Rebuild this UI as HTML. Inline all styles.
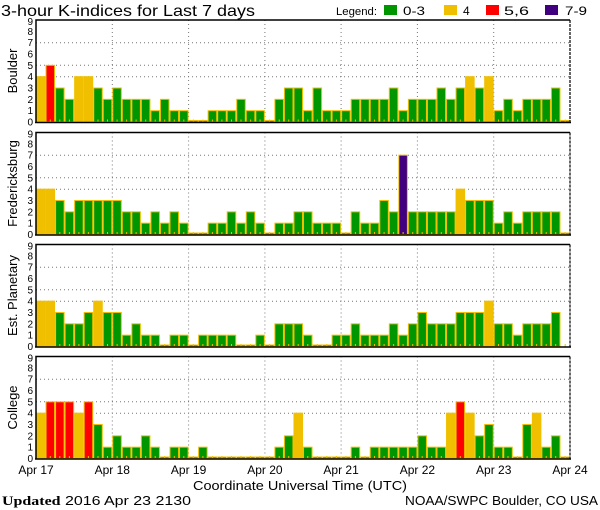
<!DOCTYPE html>
<html><head><meta charset="utf-8"><style>
html,body{margin:0;padding:0;background:#fff;}
svg{display:block;font-family:"Liberation Sans",sans-serif;}
</style></head><body>
<svg id="s" width="600" height="510" viewBox="0 0 600 510" xmlns="http://www.w3.org/2000/svg">
<rect width="600" height="510" fill="#fff"/>
<text x="1" y="16" font-size="16" textLength="254" lengthAdjust="spacingAndGlyphs">3-hour K-indices for Last 7 days</text>
<text x="336" y="15" font-size="11" textLength="41" lengthAdjust="spacingAndGlyphs">Legend:</text>
<rect x="384" y="5" width="13" height="10" fill="#009600"/>
<text x="403" y="15" font-size="12" textLength="22" lengthAdjust="spacingAndGlyphs">0-3</text>
<rect x="444" y="5" width="13" height="10" fill="#f0c000"/>
<text x="463" y="15" font-size="12">4</text>
<rect x="486" y="5" width="13" height="10" fill="#ff0000"/>
<text x="504" y="15" font-size="12" textLength="25" lengthAdjust="spacingAndGlyphs">5,6</text>
<rect x="545" y="5" width="13" height="10" fill="#400080"/>
<text x="565" y="15" font-size="12" textLength="22" lengthAdjust="spacingAndGlyphs">7-9</text>

<g id="bars"></g>

<g font-size="10" text-anchor="end">
<g transform="translate(0,20)">
<text x="33" y="105.5">0</text><text x="33" y="94.2">1</text><text x="33" y="82.8">2</text><text x="33" y="71.5">3</text><text x="33" y="60.2">4</text><text x="33" y="48.8">5</text><text x="33" y="37.5">6</text><text x="33" y="26.2">7</text><text x="33" y="14.8">8</text><text x="33" y="5">9</text>
</g>
<g transform="translate(0,132.5)">
<text x="33" y="105.5">0</text><text x="33" y="94.2">1</text><text x="33" y="82.8">2</text><text x="33" y="71.5">3</text><text x="33" y="60.2">4</text><text x="33" y="48.8">5</text><text x="33" y="37.5">6</text><text x="33" y="26.2">7</text><text x="33" y="14.8">8</text><text x="33" y="5">9</text>
</g>
<g transform="translate(0,244.5)">
<text x="33" y="105.5">0</text><text x="33" y="94.2">1</text><text x="33" y="82.8">2</text><text x="33" y="71.5">3</text><text x="33" y="60.2">4</text><text x="33" y="48.8">5</text><text x="33" y="37.5">6</text><text x="33" y="26.2">7</text><text x="33" y="14.8">8</text><text x="33" y="5">9</text>
</g>
<g transform="translate(0,356.5)">
<text x="33" y="105.5">0</text><text x="33" y="94.2">1</text><text x="33" y="82.8">2</text><text x="33" y="71.5">3</text><text x="33" y="60.2">4</text><text x="33" y="48.8">5</text><text x="33" y="37.5">6</text><text x="33" y="26.2">7</text><text x="33" y="14.8">8</text><text x="33" y="5">9</text>
</g>
</g>

<g font-size="13" text-anchor="middle">
<text transform="translate(17,71) rotate(-90)">Boulder</text>
<text transform="translate(17,183.5) rotate(-90)">Fredericksburg</text>
<text transform="translate(17,295.5) rotate(-90)">Est. Planetary</text>
<text transform="translate(17,407.5) rotate(-90)">College</text>
</g>

<g font-size="12" text-anchor="middle">
<text x="36" y="474">Apr 17</text>
<text x="112.3" y="474">Apr 18</text>
<text x="188.6" y="474">Apr 19</text>
<text x="264.9" y="474">Apr 20</text>
<text x="341.1" y="474">Apr 21</text>
<text x="417.4" y="474">Apr 22</text>
<text x="493.7" y="474">Apr 23</text>
<text x="570" y="474">Apr 24</text>
</g>
<text x="193" y="490" font-size="13" textLength="214" lengthAdjust="spacingAndGlyphs">Coordinate Universal Time (UTC)</text>
<text x="2" y="505" font-size="13" textLength="189" lengthAdjust="spacingAndGlyphs"><tspan font-weight="bold" font-family="Liberation Serif">Updated</tspan> 2016 Apr 23 2130</text>
<text x="405" y="505" font-size="13" textLength="193" lengthAdjust="spacingAndGlyphs">NOAA/SWPC Boulder, CO USA</text>
</svg>
<script>
var data=[
[4,5,3,2,4,4,3,2, 3,2,2,2,1,2,1,1, 0,0,1,1,1,2,1,1, 0,2,3,3,1,3,1,1, 1,2,2,2,2,3,1,2, 2,2,3,2,3,4,3,4, 1,2,1,2,2,2,3,0],
[4,4,3,2,3,3,3,3, 3,2,2,1,2,1,2,1, 0,0,1,1,2,1,2,1, 0,1,1,2,2,1,1,1, 0,2,1,1,3,2,7,2, 2,2,2,2,4,3,3,3, 1,2,1,2,2,2,2,0],
[4,4,3,2,2,3,4,3, 3,1,2,1,1,0,1,1, 0,1,1,1,1,0,0,1, 0,2,2,2,1,0,0,1, 1,2,1,1,1,2,1,2, 3,2,2,2,3,3,3,4, 2,2,1,2,2,2,3,null],
[4,5,5,5,4,5,3,1, 2,1,1,2,1,0,1,1, 0,1,0,0,0,0,0,0, 0,1,2,4,1,0,0,0, 0,1,0,1,1,1,1,1, 2,1,1,4,5,4,2,3, 1,1,0,3,4,1,2,0]];
var tops=[20,132.5,244.5,356.5],H=102,U=H/9,X0=36,X1=570,BW=(X1-X0)/56;
var s='';
function col(v){return v<=3?'#009600':v==4?'#f0c000':v<=6?'#ff0000':'#400080';}
for(var p=0;p<4;p++){
 var t=tops[p],b=t+H;
 // grid
 [4,5,7].forEach(function(v){var y=(b-v*U).toFixed(1);s+='<line x1="'+X0+'" x2="'+X1+'" y1="'+y+'" y2="'+y+'" stroke="#777" stroke-dasharray="1,3"/>';});
 for(var d=1;d<7;d++){var x=(X0+d*BW*8).toFixed(1);s+='<line x1="'+x+'" x2="'+x+'" y1="'+t+'" y2="'+b+'" stroke="#777" stroke-dasharray="1,3"/>';}
 for(var i=0;i<56;i++){
  var v=data[p][i],x=X0+i*BW;
  if(v!==null){
   var h=v==0?1.5:v*U;
   var c=col(v);
   s+='<rect x="'+(x+0.5).toFixed(2)+'" y="'+(b-h).toFixed(2)+'" width="'+(BW-1).toFixed(2)+'" height="'+h.toFixed(2)+'" fill="'+c+'" stroke="#f0c000" stroke-width="1"/>';
  }
  var cx=(x+BW/2).toFixed(1);
  s+='<line x1="'+cx+'" x2="'+cx+'" y1="'+(b-2.5)+'" y2="'+b+'" stroke="#f0c000" stroke-width="1"/>';
 }
 s+='<path d="M'+X0+' '+b+'V'+t+'H'+X1+'" fill="none" stroke="#000" stroke-width="1.5"/>';
 s+='<line x1="'+X1+'" x2="'+X1+'" y1="'+t+'" y2="'+b+'" stroke="#000" stroke-width="1.2" stroke-dasharray="3,1"/>';
 s+='<line x1="'+(X0-1)+'" x2="'+(X1+1)+'" y1="'+(b+0.5)+'" y2="'+(b+0.5)+'" stroke="#000" stroke-width="1.5"/>';
}
document.getElementById('bars').innerHTML=s;
</script>
</body></html>
